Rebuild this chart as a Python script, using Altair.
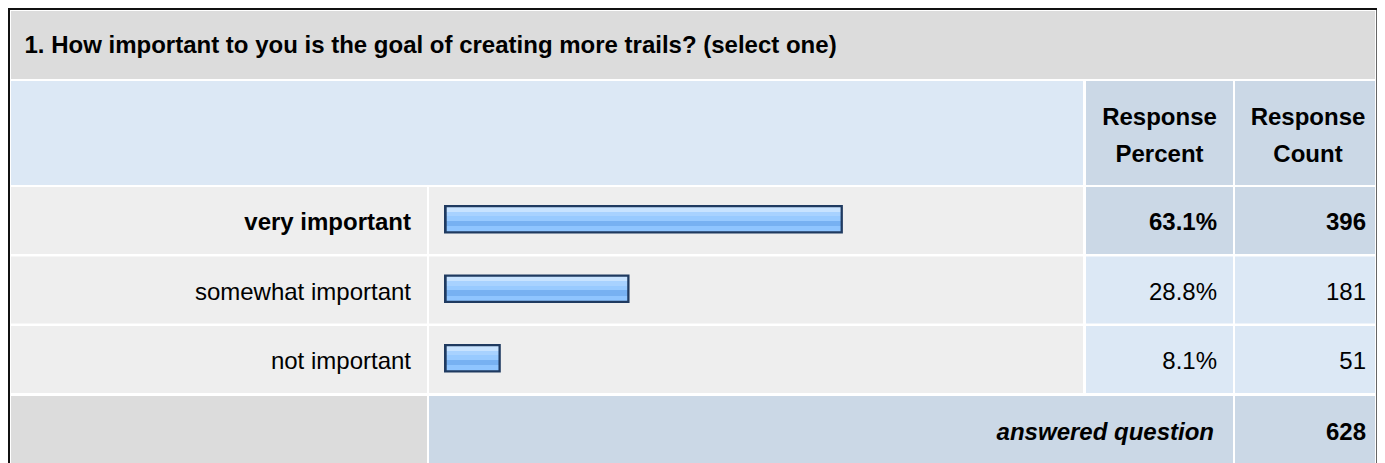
import altair as alt
import pandas as pd

# ---------------- data ----------------
TITLE = "1. How important to you is the goal of creating more trails? (select one)"
CATEGORIES = ["very important", "somewhat important", "not important"]
PERCENTS = [63.1, 28.8, 8.1]
COUNTS = [396, 181, 51]
HEADERS = ["Response Percent", "Response Count"]
FOOTER_LABEL = "answered question"
ANSWERED = 628

# ---------------- layout (page pixels) ----------------
M = 8
CHART_W, CHART_H = 1369, 455
X_END, Y_END = M + CHART_W, M + CHART_H
XS = alt.Scale(domain=[M, X_END], nice=False, zero=False)
YS = alt.Scale(domain=[M, Y_END], nice=False, zero=False, reverse=True)

X0 = 11
COLS = {"label": (X0, 427), "bar": (429, 1083), "pct": (1086, 1233), "cnt": (1235, 1375)}
CNT_CENTER = 1308
Y_TITLE = (11, 79)
Y_HEAD = (81, 185)
ROW_TOP0, ROW_STEP, ROW_H = 187, 69.5, 67
Y_FOOT = (396, Y_END)

C_TITLE = "#dcdcdc"
C_HEAD = "#dce8f5"
C_DARK = "#cbd8e6"
C_ROW = "#eeeeee"
C_FOOT = "#dcdcdc"

cells = []
def cell(x, x2, y, y2, c):
    cells.append({"x": x, "x2": x2, "y": y, "y2": y2, "c": c})

cell(X0, COLS["cnt"][1], *Y_TITLE, C_TITLE)
cell(X0, COLS["bar"][1], *Y_HEAD, C_HEAD)
cell(*COLS["pct"], *Y_HEAD, C_DARK)
cell(*COLS["cnt"], *Y_HEAD, C_DARK)
pmax = max(PERCENTS)
row_tops = []
for i, p in enumerate(PERCENTS):
    top = ROW_TOP0 + i * ROW_STEP
    bot = top + ROW_H
    row_tops.append(top)
    cell(*COLS["label"], top, bot, C_ROW)
    cell(*COLS["bar"], top, bot, C_ROW)
    vc = C_DARK if p == pmax else C_HEAD
    cell(*COLS["pct"], top, bot, vc)
    cell(*COLS["cnt"], top, bot, vc)
cell(*COLS["label"], *Y_FOOT, C_FOOT)
cell(COLS["bar"][0], COLS["pct"][1], *Y_FOOT, C_DARK)
cell(*COLS["cnt"], *Y_FOOT, C_DARK)
# frame
cell(M, X_END, 8, 10, "#111111")
cell(M, 10, 8, Y_END, "#111111")
cell(X_END - 1, X_END, 10, Y_END, "#666666")

cells_df = pd.DataFrame(cells)
cells_layer = alt.Chart(cells_df).mark_rect().encode(
    x=alt.X("x:Q", scale=XS, axis=None),
    x2="x2:Q",
    y=alt.Y("y:Q", scale=YS, axis=None),
    y2="y2:Q",
    color=alt.Color("c:N", scale=None, legend=None),
)

FONT = "Liberation Sans"
FS = 24

def text_layer(rows, align, weight="normal", style="normal"):
    df = pd.DataFrame(rows)
    return alt.Chart(df).mark_text(
        align=align, baseline="alphabetic", font=FONT, fontSize=FS,
        fontWeight=weight, fontStyle=style, color="#000000",
    ).encode(
        x=alt.X("x:Q", scale=XS, axis=None),
        y=alt.Y("y:Q", scale=YS, axis=None),
        text="t:N",
    )

title_layer = text_layer([{"x": 24.5, "y": 53, "t": TITLE}], "left", "bold")

head_rows = []
for h, cx in zip(HEADERS, [(COLS["pct"][0] + COLS["pct"][1]) / 2, CNT_CENTER]):
    for j, line in enumerate(h.split(" ")):
        head_rows.append({"x": cx, "y": 125 + j * 36.7, "t": line})
head_layer = text_layer(head_rows, "center", "bold")

lab_bold, lab_norm, val_bold, val_norm = [], [], [], []
for i, (cat, p, n) in enumerate(zip(CATEGORIES, PERCENTS, COUNTS)):
    yb = row_tops[i] + 43
    lab = {"x": 411, "y": yb, "t": cat}
    v1 = {"x": 1217, "y": yb, "t": f"{p:.1f}%"}
    v2 = {"x": 1366, "y": yb, "t": str(n)}
    if p == pmax:
        lab_bold.append(lab); val_bold += [v1, v2]
    else:
        lab_norm.append(lab); val_norm += [v1, v2]

layers = [cells_layer, title_layer, head_layer,
          text_layer(lab_bold, "right", "bold"),
          text_layer(lab_norm, "right"),
          text_layer(val_bold, "right", "bold"),
          text_layer(val_norm, "right"),
          text_layer([{"x": 1214, "y": 439.5, "t": FOOTER_LABEL}], "right", "bold", "italic"),
          text_layer([{"x": 1366, "y": 439.5, "t": str(ANSWERED)}], "right", "bold")]

# ---------------- bars ----------------
BX = alt.Scale(domain=[0, 100], range=[444 - M, 444 - M + 622])
bars_df = pd.DataFrame({
    "cat": CATEGORIES,
    "pct": PERCENTS,
    "zero": [0] * len(PERCENTS),
    "by": [t + 18 for t in row_tops],
    "by2": [t + 46.5 for t in row_tops],
})
grad = alt.Gradient(
    gradient="linear", x1=0, x2=0, y1=0, y2=1,
    stops=[
        alt.GradientStop(offset=0, color="#c8e3ff"),
        alt.GradientStop(offset=0.18, color="#c8e3ff"),
        alt.GradientStop(offset=0.18, color="#a8d2ff"),
        alt.GradientStop(offset=0.38, color="#a8d2ff"),
        alt.GradientStop(offset=0.38, color="#98caff"),
        alt.GradientStop(offset=0.56, color="#98caff"),
        alt.GradientStop(offset=0.56, color="#77b1f2"),
        alt.GradientStop(offset=0.79, color="#77b1f2"),
        alt.GradientStop(offset=0.79, color="#8fc5ff"),
        alt.GradientStop(offset=1, color="#8fc5ff"),
    ],
)
bar_enc = dict(
    x=alt.X("zero:Q", scale=BX, axis=None),
    x2="pct:Q",
    y=alt.Y("by:Q", scale=YS, axis=None),
    y2="by2:Q",
)
bar_outer = alt.Chart(bars_df).mark_rect(fill="#1f3a60", x2Offset=6.4).encode(**bar_enc)
bar_inner = alt.Chart(bars_df).mark_rect(
    fill=grad, xOffset=2.7, x2Offset=4.1, yOffset=2.3, y2Offset=-2.2
).encode(**bar_enc)

layers += [bar_outer, bar_inner]

chart = alt.layer(*layers).resolve_scale(x="independent").properties(
    width=CHART_W, height=CHART_H, padding=0,
    autosize=alt.AutoSizeParams(type="none"), background="#ffffff",
).configure_view(strokeWidth=0)

chart.save("out.html", embed_options={"renderer": "svg", "actions": False})
